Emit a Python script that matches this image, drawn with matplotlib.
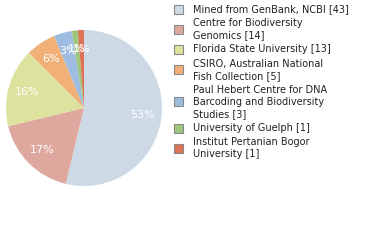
import textwrap
import numpy as np
import matplotlib
matplotlib.use("Agg")
from matplotlib import pyplot
from matplotlib.patches import Rectangle

plt = pyplot

# Data
sources = [
    "Mined from GenBank, NCBI",
    "Centre for Biodiversity Genomics",
    "Florida State University",
    "CSIRO, Australian National Fish Collection",
    "Paul Hebert Centre for DNA Barcoding and Biodiversity Studies",
    "University of Guelph",
    "Institut Pertanian Bogor University",
]
counts = [43, 14, 13, 5, 3, 1, 1]
colors = ["#cddae6", "#dfa89f", "#dde29f", "#f0b077", "#9dbcdf", "#9dc57b", "#df7155"]

W, H = 380, 240
fig = plt.figure(figsize=(W / 100, H / 100), dpi=100)

# pie, centre (84,108) px, radius 78 px
cx, cy, r = 84, 108, 78
ax = fig.add_axes([(cx - r) / W, (H - cy - r) / H, 2 * r / W, 2 * r / H])
total = sum(counts)
pct = [int(100 * c / total) for c in counts]
wedges, _ = ax.pie(counts, colors=colors, startangle=90, counterclock=False,
                   radius=1.0, wedgeprops=dict(linewidth=0))
for w, p in zip(wedges, pct):
    ang = np.deg2rad((w.theta1 + w.theta2) / 2)
    d = 0.76
    ax.text(d * np.cos(ang), d * np.sin(ang), f"{p}%", color="white",
            ha="center", va="center", fontsize=8)
ax.set_xlim(-1, 1)
ax.set_ylim(-1, 1)
ax.set_aspect("equal")
ax.axis("off")

# legend
y = 9
line_h = 12
for name, n, col in zip(sources, counts, colors):
    lines = textwrap.wrap(f"{name} [{n}]", 29)
    mid = y + line_h * (len(lines) - 1) / 2
    fig.patches.append(Rectangle((174 / W, 1 - (mid + 4.5) / H), 9 / W, 9 / H,
                                 transform=fig.transFigure, facecolor=col,
                                 edgecolor="#888888", linewidth=0.8))
    for i, ln in enumerate(lines):
        fig.text(193 / W, 1 - (y + i * line_h) / H, ln, ha="left", va="center",
                 fontsize=7, color="#222222")
    y += line_h * len(lines) + 2.2

fig.savefig("out.png", dpi=100)
